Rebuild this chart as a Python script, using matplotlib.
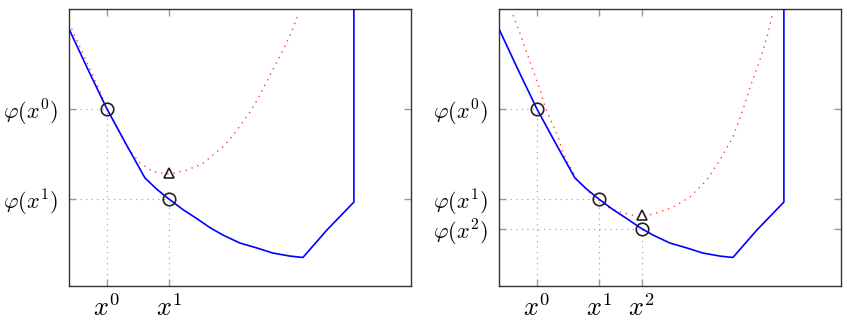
import matplotlib
matplotlib.use("Agg")
from matplotlib import pyplot as plt

plt.rcParams['mathtext.fontset'] = 'cm'

# objective phi (same in both panels)
phi_x = [0.00, 0.56, 1.11, 1.67, 2.22, 2.57, 2.92, 3.33, 3.74, 4.12, 4.50, 5.00, 5.50,
         5.96, 6.46, 6.84, 7.54, 8.33, 8.33]
phi_y = [9.28, 7.80, 6.39, 5.12, 3.90, 3.49, 3.14, 2.76, 2.43, 2.11, 1.84, 1.55, 1.37,
         1.19, 1.08, 1.03, 2.02, 3.03, 11.0]

# model around the iterate (red dotted), left panel
model1_x = [0.00, 0.56, 1.11, 1.70, 2.08, 2.46, 2.95, 3.45, 3.89, 4.21, 4.50, 4.80, 5.06,
            5.29, 5.50, 5.70, 5.88, 6.08, 6.29, 6.49, 6.70]
model1_y = [9.49, 7.98, 6.43, 5.02, 4.44, 4.12, 4.04, 4.19, 4.40, 4.73, 5.02, 5.45, 5.88,
            6.28, 6.71, 7.18, 7.62, 8.09, 8.59, 9.13, 9.78]

# model, right panel
model2_x = [0.41, 0.61, 0.82, 0.99, 1.20, 1.35, 1.55, 1.73, 1.87, 2.08, 2.28, 2.66, 3.16,
            3.63, 4.12, 4.62, 5.09, 5.58, 6.08, 6.46, 6.84, 7.13, 7.34, 7.63, 7.84, 8.01]
model2_y = [9.78, 9.13, 8.41, 7.80, 7.08, 6.46, 5.88, 5.38, 4.80, 4.30, 3.83, 3.36, 2.85,
            2.64, 2.49, 2.64, 2.85, 3.21, 3.83, 4.55, 5.38, 6.35, 7.18, 8.16, 8.99, 9.89]

# iterates x^k and phi(x^k)
iter_x = [1.11, 2.92, 4.18]
iter_y = [6.39, 3.14, 2.06]
iter_xlabels = ['$x^0$', '$x^1$', '$x^2$']
iter_ylabels = [r'$\varphi(x^0)$', r'$\varphi(x^1)$', r'$\varphi(x^2)$']

# model minimum (triangle) per panel
tri_x = [2.92, 4.18]
tri_y = [4.08, 2.56]

fig = plt.figure(figsize=(8.47, 3.26), dpi=100)
ax1 = fig.add_axes([69 / 847, 40 / 326, 342 / 847, 277 / 326])
ax2 = fig.add_axes([499 / 847, 40 / 326, 342 / 847, 277 / 326])

panels = [(ax1, model1_x, model1_y, 2), (ax2, model2_x, model2_y, 3)]
for i, (ax, mx, my, n) in enumerate(panels):
    ax.plot(phi_x, phi_y, color='blue', lw=1.2, zorder=3)
    ax.plot(mx, my, color='#ff4040', lw=1.0, ls=(0, (1, 3.5)), zorder=2)
    for k in range(n):
        ax.plot([0, iter_x[k]], [iter_y[k], iter_y[k]], color='#999999', lw=0.8,
                ls=(0, (1, 4)), zorder=1)
        ax.plot([iter_x[k], iter_x[k]], [0, iter_y[k]], color='#999999', lw=0.8,
                ls=(0, (1, 4)), zorder=1)
    ax.plot(iter_x[:n], iter_y[:n], 'o', ms=9, mfc='none', mec='#222222', mew=1.2, zorder=4)
    ax.plot(tri_x[i], tri_y[i], '^', ms=6.5, mfc='none', mec='#222222', mew=1.2, zorder=4)

    ax.set_xlim(0, 10)
    ax.set_ylim(0, 10)
    ax.set_xticks(iter_x[:n])
    ax.set_xticklabels(iter_xlabels[:n], fontsize=19)
    ax.set_yticks(iter_y[:n])
    ax.set_yticklabels(iter_ylabels[:n], fontsize=16)
    ax.tick_params(direction='in', length=5, width=1, color='#999999',
                   top=True, right=True, pad=8)
    ax.tick_params(axis='x', pad=7)
    for s in ax.spines.values():
        s.set_color('#333333')
        s.set_linewidth(1.0)

plt.savefig('out.png', dpi=100)
